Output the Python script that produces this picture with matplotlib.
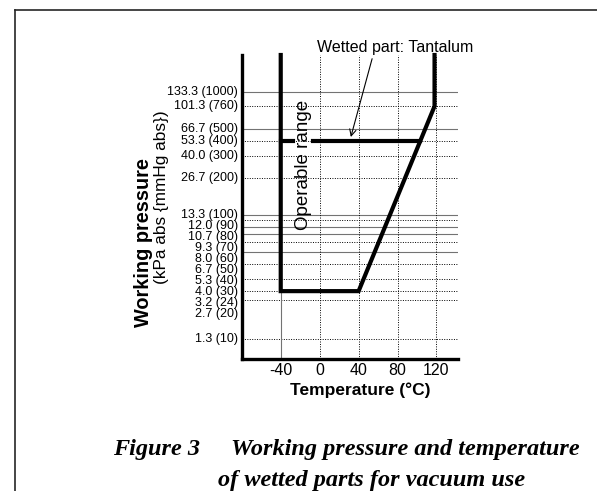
import matplotlib.pyplot as plt
import numpy as np
from matplotlib.lines import Line2D

# pressure axis (kPa abs) with mmHg in brackets
p_ticks = [133.3, 101.3, 66.7, 53.3, 40.0, 26.7, 13.3, 12.0, 10.7, 9.3,
           8.0, 6.7, 5.3, 4.0, 3.2, 2.7, 1.3]
p_labels = ["133.3 (1000)", "101.3 (760)", "66.7 (500)", "53.3 (400)",
            "40.0 (300)", "26.7 (200)", "13.3 (100)", "12.0 (90)",
            "10.7 (80)", "9.3 (70)", "8.0 (60)", "6.7 (50)", "5.3 (40)",
            "4.0 (30)", "3.2 (24)", "2.7 (20)", "1.3 (10)"]
solid_grid = [133.3, 66.7, 13.3, 10.7, 9.3, 6.7]

t_ticks = [-40, 0, 40, 80, 120]
t_labels = ["-40", "0", "40", "80", "120"]

p_min, p_max = 0.9, 264.0
t_min, t_max = -80, 142

# operable range boundary
range_t = [-40, -40, 40, 118, 118]
range_p = [p_max, 3.2, 3.2, 101.3, p_max]

# wetted part tantalum limit
ta_p = 53.3
ta_start = -40
ta_gap = (-27, -7)

fig = plt.figure(figsize=(5.97, 4.91), dpi=100)
ax = fig.add_axes([0.405, 0.2688, 0.362, 0.6192])
ax.set_yscale("log")
ax.set_xlim(t_min, t_max)
ax.set_ylim(p_min, p_max)

for s in ["top", "right"]:
    ax.spines[s].set_visible(False)
for s in ["left", "bottom"]:
    ax.spines[s].set_linewidth(2.4)

# grid
for p in p_ticks:
    if p in solid_grid:
        ax.axhline(p, color="0.45", lw=0.8, zorder=1)
    else:
        ax.axhline(p, color="black", lw=0.7, ls=(0, (1, 1.5)), zorder=1)
for t in t_ticks:
    if t == -40:
        ax.axvline(t, color="0.45", lw=0.8, zorder=1)
    else:
        ax.axvline(t, color="black", lw=0.7, ls=(0, (1, 1.5)), zorder=1)

# operable range
ax.plot(range_t, range_p, color="black", lw=3, solid_joinstyle="miter",
        clip_on=False, zorder=3)

# tantalum limit line, broken where the label sits
ta_end = np.interp(np.log10(ta_p), np.log10([range_p[2], range_p[3]]),
                   [range_t[2], range_t[3]])
ax.plot([ta_start, ta_gap[0]], [ta_p, ta_p], color="black", lw=3, zorder=3)
ax.plot([ta_gap[1], ta_end], [ta_p, ta_p], color="black", lw=3, zorder=3)

ax.text(-17, 33.8, "Operable range", rotation=90, ha="center", va="center",
        fontsize=13.5, family="Liberation Sans")

ax.annotate("Wetted part: Tantalum", xy=(32, 57), xytext=(77.5, 306),
            ha="center", va="center", fontsize=11.5, family="Liberation Sans",
            annotation_clip=False,
            arrowprops=dict(arrowstyle="->", lw=0.8, color="black",
                            relpos=(0.36, 0.0), shrinkA=1, shrinkB=0))

# x ticks
ax.set_xticks(t_ticks)
ax.set_xticklabels(t_labels, fontsize=11.5, family="Liberation Sans")
ax.tick_params(axis="x", length=0, pad=3)
ax.set_yticks([])
ax.minorticks_off()
ax.tick_params(axis="y", which="both", length=0)

# y tick labels: placed at their value, pushed down where they would collide
gap = 11
prev = None
for v, lab in zip(p_ticks, p_labels):
    yd = ax.transData.transform((0, v))[1]
    if prev is not None and yd > prev - gap:
        yd = prev - gap
    prev = yd
    ya = ax.transAxes.inverted().transform((0, yd))[1]
    ax.text(-0.018, ya, lab, transform=ax.transAxes, ha="right", va="center",
            fontsize=9, family="Liberation Sans")

# axis titles
fig.text(0.2404, 0.507, "Working pressure", rotation=90, ha="center",
         va="center", fontsize=14.3, fontweight="bold", family="Liberation Sans")
fig.text(0.2705, 0.599, "(kPa abs {mmHg abs})", rotation=90, ha="center",
         va="center", fontsize=12.4, family="Liberation Sans")
fig.text(0.603, 0.206, "Temperature (°C)", ha="center", va="center",
         fontsize=12.5, fontweight="bold", family="Liberation Sans")

# caption
cap = dict(fontsize=17.5, fontweight="bold", style="italic",
           family="Liberation Serif", va="baseline", ha="left")
fig.text(113 / 597, 0.0733, "Figure 3", **cap)
fig.text(231 / 597, 0.0733, "Working pressure and temperature", **cap)
fig.text(218 / 597, 0.0102, "of wetted parts for vacuum use", **cap)

# page frame
fig.add_artist(Line2D([15 / 597, 15 / 597], [0, 1 - 10 / 491],
                      color="0.15", lw=1.2))
fig.add_artist(Line2D([15 / 597, 1], [1 - 10 / 491, 1 - 10 / 491],
                      color="0.15", lw=1.2))

fig.savefig("out.png", dpi=100)
